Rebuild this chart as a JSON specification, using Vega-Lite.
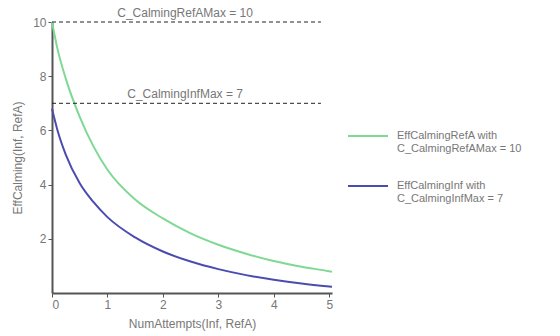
{
  "$schema": "https://vega.github.io/schema/vega-lite/v6.json",
  "width": 280,
  "height": 271,
  "autosize": "none",
  "padding": {"left": 52, "top": 22, "right": 228, "bottom": 43},
  "background": "white",
  "config": {
    "view": {"stroke": null},
    "font": "Liberation Sans",
    "axis": {"grid": false, "domainColor": "#555", "domainWidth": 2, "tickColor": "#555", "labelColor": "#777", "titleColor": "#777", "labelFontSize": 12, "titleFontSize": 12, "titleFontWeight": "normal", "labelFont": "Liberation Sans", "titleFont": "Liberation Sans"}
  },
  "layer": [
    {
      "data": {"values": [
        {"series": "RefA", "x": 0, "y": 10},
        {"series": "RefA", "x": 0.1, "y": 9.0},
        {"series": "RefA", "x": 0.25, "y": 7.9},
        {"series": "RefA", "x": 0.5, "y": 6.5},
        {"series": "RefA", "x": 0.75, "y": 5.4},
        {"series": "RefA", "x": 1, "y": 4.55},
        {"series": "RefA", "x": 1.5, "y": 3.45},
        {"series": "RefA", "x": 2, "y": 2.75},
        {"series": "RefA", "x": 2.5, "y": 2.2},
        {"series": "RefA", "x": 3, "y": 1.78},
        {"series": "RefA", "x": 3.5, "y": 1.45},
        {"series": "RefA", "x": 4, "y": 1.18},
        {"series": "RefA", "x": 4.5, "y": 0.97},
        {"series": "RefA", "x": 5, "y": 0.8},
        {"series": "RefA", "x": 5.05, "y": 0.78},
        {"series": "Inf", "x": 0, "y": 6.8},
        {"series": "Inf", "x": 0.1, "y": 6.0},
        {"series": "Inf", "x": 0.25, "y": 5.1},
        {"series": "Inf", "x": 0.5, "y": 4.05},
        {"series": "Inf", "x": 0.75, "y": 3.35},
        {"series": "Inf", "x": 1, "y": 2.8},
        {"series": "Inf", "x": 1.5, "y": 2.05},
        {"series": "Inf", "x": 2, "y": 1.53},
        {"series": "Inf", "x": 2.5, "y": 1.16},
        {"series": "Inf", "x": 3, "y": 0.88},
        {"series": "Inf", "x": 3.5, "y": 0.66},
        {"series": "Inf", "x": 4, "y": 0.49},
        {"series": "Inf", "x": 4.5, "y": 0.35},
        {"series": "Inf", "x": 5, "y": 0.24},
        {"series": "Inf", "x": 5.05, "y": 0.23}
      ]},
      "mark": {"type": "line", "strokeWidth": 2, "interpolate": "monotone"},
      "encoding": {
        "x": {"field": "x", "type": "quantitative", "scale": {"domain": [0, 5.05], "nice": false}, "axis": {"values": [0, 1, 2, 3, 4, 5], "tickSize": 4, "title": "NumAttempts(Inf, RefA)", "titlePadding": 8}},
        "y": {"field": "y", "type": "quantitative", "scale": {"domain": [0, 10], "nice": false}, "axis": {"values": [2, 4, 6, 8, 10], "tickSize": 4, "title": "EffCalming(Inf, RefA)", "titlePadding": 8}},
        "color": {
          "field": "series", "type": "nominal",
          "scale": {"domain": ["RefA", "Inf"], "range": ["#7fd893", "#4c4cb0"]},
          "legend": {
            "title": null, "orient": "none", "legendX": 295, "legendY": 93,
            "symbolType": "stroke", "symbolSize": 1600, "symbolStrokeWidth": 2,
            "labelExpr": "datum.label == 'RefA' ? ['EffCalmingRefA with', 'C_CalmingRefAMax = 10'] : ['EffCalmingInf with', 'C_CalmingInfMax = 7']",
            "labelFontSize": 11, "labelColor": "#777", "labelFont": "Liberation Sans", "rowPadding": 11, "labelOffset": 8
          }
        }
      }
    },
    {
      "data": {"values": [
        {"y": 10, "label": "C_CalmingRefAMax = 10"},
        {"y": 7, "label": "C_CalmingInfMax = 7"}
      ]},
      "layer": [
        {"mark": {"type": "rule", "strokeDash": [4, 3], "color": "#222", "strokeWidth": 1}, "encoding": {"y": {"field": "y", "type": "quantitative"}, "x": {"datum": 0, "type": "quantitative"}, "x2": {"datum": 4.85}}},
        {"mark": {"type": "text", "dy": -9, "color": "#777", "fontSize": 12, "align": "center"}, "encoding": {"y": {"field": "y", "type": "quantitative"}, "x": {"datum": 2.4, "type": "quantitative"}, "text": {"field": "label"}}}
      ]
    }
  ]
}
